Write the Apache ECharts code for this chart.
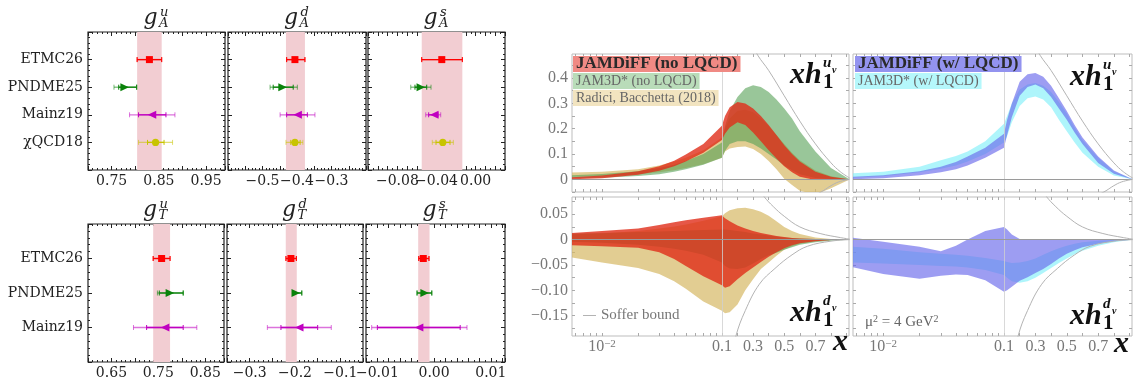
<!DOCTYPE html>
<html>
<head>
    <meta charset="UTF-8" />
    <title>Tensor charges and transversity</title>
    <script src="https://cdn.jsdelivr.net/npm/echarts@6.0.0/dist/echarts.min.js"></script>
</head>
<body style="margin:0; background:#fff;">
    <div id="chart" style="width: 1137px; height: 383px;"></div>

    <script type="text/javascript">
        // ---------- lattice charges: [centre, outer lo, outer hi, inner lo, inner hi] ----------
        var rowNames = ['ETMC26', 'PNDME25', 'Mainz19', 'χQCD18'];

        var gAu = [[0.830, 0.804, 0.856, 0.804, 0.856], [0.776, 0.755, 0.803, 0.765, 0.803],
                   [0.837, 0.788, 0.884, 0.807, 0.865], [0.843, 0.807, 0.879, 0.826, 0.861]];
        var gAuBand = [0.804, 0.856];
        var gAd = [[-0.406, -0.430, -0.377, -0.430, -0.377], [-0.444, -0.478, -0.399, -0.469, -0.411],
                   [-0.396, -0.449, -0.348, -0.430, -0.370], [-0.406, -0.432, -0.383, -0.418, -0.391]];
        var gAdBand = [-0.432, -0.377];
        var gAs = [[-0.0346, -0.0551, -0.0136, -0.0551, -0.0136], [-0.0568, -0.0663, -0.0456, -0.062, -0.050],
                   [-0.0415, -0.051, -0.0357, -0.048, -0.0385], [-0.0336, -0.0443, -0.0228, -0.0405, -0.0262]];
        var gAsBand = [-0.0551, -0.0136];
        var gTu = [[0.757, 0.739, 0.775, 0.739, 0.775], [0.773, 0.748, 0.803, 0.752, 0.803],
                   [0.766, 0.697, 0.832, 0.725, 0.803]];
        var gTuBand = [0.739, 0.775];
        var gTd = [[-0.209, -0.220, -0.197, -0.220, -0.197], [-0.200, -0.205, -0.185, -0.205, -0.185],
                   [-0.189, -0.261, -0.120, -0.231, -0.150]];
        var gTdBand = [-0.2204, -0.1961];
        var gTs = [[-0.0019, -0.0027, -0.0009, -0.0027, -0.0009], [-0.0018, -0.0030, -0.0004, -0.0030, -0.0004],
                   [-0.0025, -0.0110, 0.0058, -0.0100, 0.0046]];
        var gTsBand = [-0.0028, -0.0008];

        // ---------- transversity bands (x grid shared by all bands) ----------
        var xs = [0.0055, 0.01, 0.02, 0.03, 0.04, 0.05, 0.07, 0.1, 0.12, 0.15, 0.2,
                  0.25, 0.3, 0.35, 0.4, 0.45, 0.5, 0.55, 0.6, 0.7, 0.8, 0.92];

        // x h1 u_v, no LQCD
        var jamdiffUvLo = [0.000, 0.004, 0.018, 0.034, 0.052, 0.070, 0.105, 0.155, 0.180, 0.205, 0.225, 0.215, 0.185, 0.150, 0.115, 0.082, 0.052, 0.028, 0.010, -0.003, -0.002, 0];
        var jamdiffUvHi = [0.008, 0.015, 0.032, 0.052, 0.073, 0.098, 0.140, 0.212, 0.250, 0.285, 0.305, 0.300, 0.280, 0.250, 0.215, 0.175, 0.135, 0.100, 0.070, 0.030, 0.010, 0];
        var jam3dUvLo = [0.004, 0.006, 0.013, 0.020, 0.030, 0.040, 0.058, 0.085, 0.112, 0.140, 0.150, 0.150, 0.140, 0.122, 0.100, 0.078, 0.055, 0.036, 0.020, 0.005, 0.001, 0];
        var jam3dUvHi = [0.016, 0.021, 0.032, 0.045, 0.058, 0.072, 0.100, 0.145, 0.210, 0.270, 0.325, 0.360, 0.372, 0.365, 0.345, 0.315, 0.280, 0.240, 0.190, 0.110, 0.045, 0];
        var radiciUvLo = [0.010, 0.013, 0.020, 0.028, 0.036, 0.045, 0.060, 0.085, 0.110, 0.122, 0.128, 0.130, 0.120, 0.100, 0.072, 0.040, 0.002, -0.022, -0.045, -0.060, -0.035, 0];
        var radiciUvHi = [0.027, 0.030, 0.040, 0.055, 0.070, 0.085, 0.115, 0.165, 0.200, 0.240, 0.270, 0.275, 0.265, 0.240, 0.210, 0.175, 0.140, 0.105, 0.075, 0.035, 0.012, 0];
        // x h1 u_v, with LQCD
        var jamdiffUvLqLo = [0.000, 0.004, 0.016, 0.028, 0.040, 0.055, 0.085, 0.125, 0.175, 0.245, 0.330, 0.365, 0.375, 0.360, 0.325, 0.280, 0.235, 0.185, 0.140, 0.065, 0.022, 0];
        var jamdiffUvLqHi = [0.010, 0.016, 0.032, 0.050, 0.068, 0.090, 0.125, 0.180, 0.235, 0.300, 0.385, 0.415, 0.420, 0.405, 0.370, 0.320, 0.270, 0.215, 0.165, 0.090, 0.035, 0];
        var jam3dUvLqLo = [0.006, 0.012, 0.028, 0.042, 0.055, 0.070, 0.100, 0.145, 0.170, 0.225, 0.290, 0.320, 0.327, 0.315, 0.285, 0.235, 0.190, 0.145, 0.105, 0.050, 0.015, 0];
        var jam3dUvLqHi = [0.024, 0.030, 0.050, 0.075, 0.092, 0.110, 0.150, 0.220, 0.250, 0.300, 0.355, 0.375, 0.380, 0.370, 0.345, 0.305, 0.260, 0.205, 0.155, 0.085, 0.032, 0];
        // x h1 d_v, no LQCD
        var jamdiffDvLo = [-0.011, -0.013, -0.016, -0.025, -0.038, -0.052, -0.072, -0.090, -0.095, -0.092, -0.078, -0.066, -0.055, -0.044, -0.034, -0.025, -0.017, -0.011, -0.007, -0.003, -0.001, 0];
        var jamdiffDvHi = [0.013, 0.017, 0.022, 0.029, 0.034, 0.038, 0.043, 0.048, 0.042, 0.036, 0.028, 0.022, 0.017, 0.013, 0.010, 0.007, 0.005, 0.003, 0.002, 0.001, 0.000, 0];
        var jam3dDvLo = [-0.004, -0.006, -0.010, -0.014, -0.018, -0.022, -0.030, -0.045, -0.052, -0.057, -0.058, -0.055, -0.047, -0.038, -0.031, -0.026, -0.020, -0.015, -0.010, -0.005, -0.002, 0];
        var jam3dDvHi = [0.012, 0.013, 0.015, 0.016, 0.017, 0.018, 0.019, 0.020, 0.020, 0.019, 0.017, 0.015, 0.012, 0.010, 0.008, 0.006, 0.004, 0.003, 0.002, 0.001, 0.000, 0];
        var radiciDvLo = [-0.035, -0.045, -0.056, -0.068, -0.082, -0.097, -0.122, -0.140, -0.145, -0.143, -0.128, -0.100, -0.078, -0.058, -0.045, -0.032, -0.020, -0.013, -0.008, -0.003, -0.001, 0];
        var radiciDvHi = [0.010, 0.012, 0.017, 0.022, 0.026, 0.030, 0.037, 0.046, 0.052, 0.058, 0.062, 0.063, 0.060, 0.055, 0.047, 0.036, 0.025, 0.017, 0.011, 0.004, 0.001, 0];
        // x h1 d_v, with LQCD
        var jamdiffDvLqLo = [-0.054, -0.068, -0.077, -0.071, -0.069, -0.070, -0.080, -0.103, -0.100, -0.093, -0.081, -0.074, -0.066, -0.058, -0.048, -0.037, -0.028, -0.021, -0.015, -0.008, -0.003, 0];
        var jamdiffDvLqHi = [0.004, -0.004, -0.014, -0.023, -0.012, 0.000, 0.017, 0.025, 0.020, 0.010, 0.001, 0.001, 0.001, 0.001, 0.001, 0.001, 0.001, 0.001, 0.001, 0.001, 0.0005, 0];
        var jam3dDvLqLo = [-0.045, -0.047, -0.050, -0.052, -0.053, -0.055, -0.060, -0.070, -0.075, -0.082, -0.085, -0.082, -0.075, -0.066, -0.056, -0.046, -0.037, -0.029, -0.022, -0.012, -0.005, 0];
        var jam3dDvLqHi = [-0.014, -0.018, -0.025, -0.028, -0.030, -0.032, -0.036, -0.042, -0.044, -0.046, -0.045, -0.042, -0.037, -0.030, -0.023, -0.017, -0.012, -0.008, -0.005, -0.002, -0.001, 0];

        // Soffer bound
        var sofferUpX = [0.30, 0.33, 0.40, 0.50, 0.60, 0.70, 0.80, 0.86, 0.92];
        var sofferUpV = [0.53, 0.49, 0.43, 0.33, 0.23, 0.14, 0.065, 0.03, 0.005];
        var sofferUlowX = [0.65, 0.70, 0.75, 0.80, 0.85, 0.92];
        var sofferUlowV = [-0.08, -0.062, -0.045, -0.025, -0.01, 0];
        var sofferDupX = [0.34, 0.37, 0.43, 0.50, 0.60, 0.73, 0.86, 0.92];
        var sofferDupV = [0.10, 0.085, 0.065, 0.046, 0.025, 0.012, 0.004, 0.001];
        var sofferDlowX = [0.17, 0.19, 0.25, 0.34, 0.44, 0.55, 0.65, 0.80, 0.92];
        var sofferDlowV = [-0.23, -0.19, -0.14, -0.088, -0.057, -0.03, -0.013, -0.003, 0];

        // tick labels
        var xTickLabels = [0.01, 0.1, 0.3, 0.5, 0.7];
        var xMinorTicks = [0.006, 0.007, 0.008, 0.009, 0.01, 0.02, 0.03, 0.04, 0.05, 0.06, 0.07, 0.08, 0.09,
                           0.1, 0.2, 0.3, 0.4, 0.5, 0.6, 0.7, 0.8, 0.9];
        var uLabelsY = [0, 0.1, 0.2, 0.3, 0.4];
        var uTicksY = [-0.05, 0, 0.05, 0.1, 0.15, 0.2, 0.25, 0.3, 0.35, 0.4, 0.45];
        var dLabelsY = [0.05, 0, -0.05, -0.1, -0.15];
        var dTicksY = [0.075, 0.05, 0.025, 0, -0.025, -0.05, -0.075, -0.1, -0.125, -0.15, -0.175];
    </script>

    <script type="text/javascript">
        var chart = echarts.init(document.getElementById('chart'));
        var SERIF = '"DejaVu Serif", serif';
        var CM = '"Liberation Serif", "DejaVu Serif", serif';

        var markColors = ['#ff0000', '#0a820a', '#c000c0', '#c8c400'];
        var markShapes = ['square', 'right', 'left', 'circle'];

        var C_RED = 'rgba(224,45,25,0.8)';
        var C_GREEN = 'rgba(85,160,85,0.6)';
        var C_YEL = 'rgba(214,184,100,0.7)';
        var C_BLUE = 'rgba(105,105,235,0.65)';
        var C_CYAN = 'rgba(120,238,248,0.6)';

        // log below x = 0.1, linear above
        function toU(x) { return x <= 0.1 ? Math.log10(x) : -1 + 1.3 * (x - 0.1); }
        function fromU(u) { return u <= -1 ? Math.pow(10, u) : 0.1 + (u + 1) / 1.3; }
        function fmt(v, dec) {
            if (Math.abs(v) < 1e-12) return (0).toFixed(dec);
            return (v < 0 ? '\u2212' : '') + Math.abs(v).toFixed(dec);
        }

        var leftPanels = [
            { sub: 'A', sup: 'u', pts: gAu, band: gAuBand, min: 0.70, max: 0.99, step: 0.05, minor: 5, labels: [0.75, 0.85, 0.95], dec: 2, names: true, box: [88, 32, 137, 138] },
            { sub: 'A', sup: 'd', pts: gAd, band: gAdBand, min: -0.6, max: -0.2, step: 0.05, minor: 5, labels: [-0.5, -0.4, -0.3], dec: 1, box: [228, 32, 138, 138] },
            { sub: 'A', sup: 's', pts: gAs, band: gAsBand, min: -0.11, max: 0.03, step: 0.01, minor: 2, labels: [-0.08, -0.04, 0], dec: 2, box: [368, 32, 137, 138] },
            { sub: 'T', sup: 'u', pts: gTu, band: gTuBand, min: 0.60, max: 0.89, step: 0.05, minor: 5, labels: [0.65, 0.75, 0.85], dec: 2, names: true, box: [88, 224, 136, 138] },
            { sub: 'T', sup: 'd', pts: gTd, band: gTdBand, min: -0.35, max: -0.05, step: 0.05, minor: 5, labels: [-0.3, -0.2, -0.1], dec: 1, box: [227, 224, 136, 138] },
            { sub: 'T', sup: 's', pts: gTs, band: gTsBand, min: -0.012, max: 0.0125, step: 0.002, minor: 2, labels: [-0.01, 0, 0.01], dec: 2, box: [366, 224, 139, 138] }
        ];

        var rightPanels = [
            { ymin: -0.05, ymax: 0.495, yLab: uLabelsY, yTicks: uTicksY, yDec: 1, showY: true, showX: false, box: [572, 54, 277, 138],
              bands: [[radiciUvLo, radiciUvHi, C_YEL], [jam3dUvLo, jam3dUvHi, C_GREEN], [jamdiffUvLo, jamdiffUvHi, C_RED]],
              soffer: [[sofferUpX, sofferUpV], [sofferUlowX, sofferUlowV]] },
            { ymin: -0.05, ymax: 0.495, yLab: uLabelsY, yTicks: uTicksY, yDec: 1, showY: false, showX: false, box: [853, 54, 279, 138],
              bands: [[jam3dUvLqLo, jam3dUvLqHi, C_CYAN], [jamdiffUvLqLo, jamdiffUvLqHi, C_BLUE]],
              soffer: [[sofferUpX, sofferUpV], [sofferUlowX, sofferUlowV]] },
            { ymin: -0.19, ymax: 0.084, yLab: dLabelsY, yTicks: dTicksY, yDec: 2, showY: true, showX: true, box: [572, 197, 277, 139],
              bands: [[radiciDvLo, radiciDvHi, C_YEL], [jam3dDvLo, jam3dDvHi, C_GREEN], [jamdiffDvLo, jamdiffDvHi, C_RED]],
              soffer: [[sofferDupX, sofferDupV], [sofferDlowX, sofferDlowV]] },
            { ymin: -0.19, ymax: 0.084, yLab: dLabelsY, yTicks: dTicksY, yDec: 2, showY: false, showX: true, box: [853, 197, 279, 139],
              bands: [[jam3dDvLqLo, jam3dDvLqHi, C_CYAN], [jamdiffDvLqLo, jamdiffDvLqHi, C_BLUE]],
              soffer: [[sofferDupX, sofferDupV], [sofferDlowX, sofferDlowV]] }
        ];

        function pointRenderer(params, api) {
            var row = api.value(5);
            var color = markColors[row - 1];
            var shape = markShapes[row - 1];
            var c = api.coord([api.value(0), row]);
            var y = c[1], xc = c[0];
            var xo1 = api.coord([api.value(1), row])[0], xo2 = api.coord([api.value(2), row])[0];
            var xi1 = api.coord([api.value(3), row])[0], xi2 = api.coord([api.value(4), row])[0];
            var cap = 2.5;
            var kids = [
                { type: 'line', shape: { x1: xo1, y1: y, x2: xo2, y2: y }, style: { stroke: color, lineWidth: 1.3, opacity: 0.55 } },
                { type: 'line', shape: { x1: xi1, y1: y, x2: xi2, y2: y }, style: { stroke: color, lineWidth: 1.3 } }
            ];
            [xo1, xo2].forEach(function (x) {
                kids.push({ type: 'line', shape: { x1: x, y1: y - cap, x2: x, y2: y + cap }, style: { stroke: color, lineWidth: 1, opacity: 0.55 } });
            });
            [xi1, xi2].forEach(function (x) {
                kids.push({ type: 'line', shape: { x1: x, y1: y - cap, x2: x, y2: y + cap }, style: { stroke: color, lineWidth: 1 } });
            });
            if (shape === 'square') {
                kids.push({ type: 'rect', shape: { x: xc - 3.5, y: y - 3.5, width: 7, height: 7 }, style: { fill: color } });
            } else if (shape === 'right') {
                kids.push({ type: 'polygon', shape: { points: [[xc - 3.5, y - 4], [xc + 5, y], [xc - 3.5, y + 4]] }, style: { fill: color } });
            } else if (shape === 'left') {
                kids.push({ type: 'polygon', shape: { points: [[xc + 3.5, y - 4], [xc - 5, y], [xc + 3.5, y + 4]] }, style: { fill: color } });
            } else {
                kids.push({ type: 'circle', shape: { cx: xc, cy: y, r: 3.6 }, style: { fill: color } });
            }
            return { type: 'group', children: kids };
        }

        function pinkRenderer(top) {
            return function (params, api) {
                var a = api.coord([api.value(0), 0]);
                var b = api.coord([api.value(1), top]);
                return { type: 'rect', shape: { x: a[0], y: Math.min(a[1], b[1]), width: b[0] - a[0], height: Math.abs(b[1] - a[1]) },
                         style: { fill: '#f2cdd2' } };
            };
        }

        function bandRenderer(lo, hi, color) {
            return function (params, api) {
                var pts = [];
                for (var i = 0; i < xs.length; i++) pts.push(api.coord([toU(xs[i]), hi[i]]));
                for (var j = xs.length - 1; j >= 0; j--) pts.push(api.coord([toU(xs[j]), lo[j]]));
                var cs = params.coordSys;
                return { type: 'group',
                         clipPath: { type: 'rect', shape: { x: cs.x, y: cs.y, width: cs.width, height: cs.height } },
                         children: [{ type: 'polygon', shape: { points: pts }, style: { fill: color } }] };
            };
        }

        var grids = [], xAxes = [], yAxes = [], series = [], graphics = [];

        function tickStyle(color) { return { color: color, width: 1 }; }
        var noLine = { show: false, onZero: false };

        leftPanels.forEach(function (p, i) {
            var nRows = p.pts.length;
            var top = nRows + 1;
            grids.push({ left: p.box[0], top: p.box[1], width: p.box[2], height: p.box[3], show: true,
                         borderColor: '#222', borderWidth: 1.2, backgroundColor: 'transparent', outerBoundsMode: 'none', containLabel: false });
            var xBase = { gridIndex: i, type: 'value', min: p.min, max: p.max, interval: p.step,
                          axisLine: noLine, splitLine: { show: false },
                          axisTick: { show: true, inside: true, length: 4, lineStyle: tickStyle('#222') },
                          minorTick: { show: true, splitNumber: p.minor, length: 2, lineStyle: tickStyle('#222') } };
            xAxes.push(Object.assign({}, xBase, { position: 'bottom',
                axisLabel: { show: true, margin: 4, fontFamily: SERIF, fontSize: 14, color: '#222', showMinLabel: true, showMaxLabel: true,
                    formatter: function (v) {
                        return p.labels.some(function (l) { return Math.abs(l - v) < 1e-9; }) ? fmt(v, p.dec) : '';
                    } } }));
            xAxes.push(Object.assign({}, xBase, { position: 'top', axisLabel: { show: false } }));
            var yBase = { gridIndex: i, type: 'value', min: 0, max: top, interval: 1, inverse: true,
                          axisLine: noLine, splitLine: { show: false },
                          axisTick: { show: true, inside: true, length: 4, lineStyle: tickStyle('#222') },
                          minorTick: { show: true, splitNumber: 5, length: 2, lineStyle: tickStyle('#222') } };
            yAxes.push(Object.assign({}, yBase, { position: 'left',
                axisLabel: { show: !!p.names, margin: 5, fontFamily: SERIF, fontSize: 14, color: '#222',
                    formatter: function (v) { return (v >= 1 && v <= nRows) ? rowNames[v - 1] : ''; } } }));
            yAxes.push(Object.assign({}, yBase, { position: 'right', axisLabel: { show: false } }));

            series.push({ type: 'custom', name: 'band' + i, xAxisIndex: 2 * i, yAxisIndex: 2 * i, z: 1, silent: true,
                          data: [[p.band[0], p.band[1]]], renderItem: pinkRenderer(top) });
            series.push({ type: 'custom', name: 'lattice' + i, xAxisIndex: 2 * i, yAxisIndex: 2 * i, z: 3, silent: true,
                          data: p.pts.map(function (d, r) { return [d[0], d[1], d[2], d[3], d[4], r + 1]; }),
                          renderItem: pointRenderer });

            // panel title g_X^q
            var cx = p.box[0] + p.box[2] / 2;
            var ty = p.box[1] - 32;
            graphics.push({ type: 'text', x: cx + 1, y: ty + 18, silent: true,
                            style: { text: 'g', font: 'italic 22px ' + SERIF, fill: '#222', align: 'right', textAlign: 'right', verticalAlign: 'middle', textVerticalAlign: 'middle' } });
            graphics.push({ type: 'text', x: cx + 3.5, y: ty + 13, silent: true,
                            style: { text: p.sup, font: 'italic 13px ' + SERIF, fill: '#222', align: 'left', textAlign: 'left', verticalAlign: 'middle', textVerticalAlign: 'middle' } });
            graphics.push({ type: 'text', x: cx + 2.5, y: ty + 24, silent: true,
                            style: { text: p.sub, font: 'italic 13px ' + SERIF, fill: '#222', align: 'left', textAlign: 'left', verticalAlign: 'middle', textVerticalAlign: 'middle' } });
        });

        var nL = leftPanels.length;
        rightPanels.forEach(function (p, j) {
            var gi = nL + j;
            var ax = 2 * gi;
            grids.push({ left: p.box[0], top: p.box[1], width: p.box[2], height: p.box[3], show: true,
                         borderColor: '#bdbdbd', borderWidth: 1, backgroundColor: 'transparent', outerBoundsMode: 'none', containLabel: false });
            var xBase = { gridIndex: gi, type: 'value', min: -2.25, max: 0.06,
                          axisLine: noLine, splitLine: { show: false },
                          axisTick: { show: true, inside: true, length: 3, lineStyle: tickStyle('#aaa'), customValues: xMinorTicks.map(toU) } };
            xAxes.push(Object.assign({}, xBase, { position: 'bottom',
                axisLabel: { show: p.showX, margin: 3, fontFamily: CM, fontSize: 16, color: '#777',
                    customValues: xTickLabels.map(toU),
                    formatter: function (v) {
                        var x = fromU(v);
                        if (Math.abs(x - 0.01) < 1e-6) return '{p|10}{s|\u22122}';
                        return x.toFixed(1);
                    },
                    rich: { p: { fontFamily: CM, fontSize: 16, color: '#777' },
                            s: { fontFamily: CM, fontSize: 11, color: '#777', verticalAlign: 'top' } } } }));
            xAxes.push(Object.assign({}, xBase, { position: 'top', axisLabel: { show: false } }));
            var yBase = { gridIndex: gi, type: 'value', min: p.ymin, max: p.ymax,
                          axisLine: noLine, splitLine: { show: false },
                          axisTick: { show: true, inside: true, length: 3, lineStyle: tickStyle('#aaa'), customValues: p.yTicks } };
            yAxes.push(Object.assign({}, yBase, { position: 'left',
                axisLabel: { show: p.showY, margin: 4, fontFamily: CM, fontSize: 16, color: '#777', customValues: p.yLab,
                    formatter: function (v) { return Math.abs(v) < 1e-9 ? '0' : fmt(v, p.yDec); } } }));
            yAxes.push(Object.assign({}, yBase, { position: 'right', axisLabel: { show: false } }));

            p.bands.forEach(function (b, k) {
                series.push({ type: 'custom', name: 'pdf' + j + '_' + k, xAxisIndex: ax, yAxisIndex: ax, z: 2 + k, silent: true,
                              clip: true, data: [[-1, 0]], renderItem: bandRenderer(b[0], b[1], b[2]) });
            });
            p.soffer.forEach(function (s, k) {
                var line = { type: 'line', name: 'Soffer bound', xAxisIndex: ax, yAxisIndex: ax, z: 8, silent: true,
                             smooth: 0.4, symbol: 'none', clip: true,
                             lineStyle: { color: '#b3b3b3', width: 1 }, itemStyle: { color: '#b3b3b3' },
                             data: s[0].map(function (x, m) { return [toU(x), s[1][m]]; }) };
                if (k === 0) {
                    line.markLine = { silent: true, symbol: 'none', label: { show: false },
                        data: [ { xAxis: -1, lineStyle: { color: '#cfcfcf', width: 1, type: 'solid', opacity: 0.8 } },
                                { yAxis: 0, lineStyle: { color: '#9a9a9a', width: 1, type: 'solid' } } ] };
                }
                series.push(line);
            });
        });

        function txt(x, y, text, font, fill) {
            return { type: 'text', x: x, y: y, silent: true, z: 20,
                     style: { text: text, font: font, fill: fill || '#222', align: 'left', textAlign: 'left', verticalAlign: 'middle', textVerticalAlign: 'middle' } };
        }
        function box(x, y, text, font, fill, bg) {
            return { type: 'text', x: x, y: y, silent: true, z: 20,
                     style: { text: text, font: font, fill: fill, backgroundColor: bg, padding: [0, 3, 0, 3], lineHeight: 16,
                              align: 'left', textAlign: 'left', verticalAlign: 'top', textVerticalAlign: 'top' } };
        }

        // legends as coloured boxes
        graphics.push(box(573, 56, 'JAMDiFF (no LQCD)', 'bold 17px ' + CM, '#2a2a2a', '#f08a84'));
        graphics.push(box(573, 73, 'JAM3D* (no LQCD)', '14px ' + CM, '#666', '#b9dcb9'));
        graphics.push(box(573, 90, 'Radici, Bacchetta (2018)', '14px ' + CM, '#666', '#f2e4c0'));
        graphics.push(box(855, 56, 'JAMDiFF (w/ LQCD)', 'bold 17px ' + CM, '#2a2a2a', '#9393ef'));
        graphics.push(box(855, 73, 'JAM3D* (w/ LQCD)', '14px ' + CM, '#666', '#b5f7fb'));

        // x h1^{q_v} labels
        [[0, 0, 'u'], [280, 2, 'u'], [0, 238, 'd'], [280, 241, 'd']].forEach(function (o) {
            var dx = o[0], dy = o[1];
            graphics.push(txt(790 + dx, 75 + dy, 'xh', 'italic bold 30px ' + CM, '#111'));
            graphics.push(txt(823 + dx, 63 + dy, o[2], 'italic bold 15px ' + CM, '#111'));
            graphics.push(txt(832 + dx, 70 + dy, 'v', 'italic bold 10px ' + CM, '#111'));
            graphics.push(txt(823 + dx, 83 + dy, '1', 'bold 21px ' + CM, '#111'));
        });
        // axis names
        graphics.push(txt(833, 342, 'x', 'italic bold 30px ' + CM, '#111'));
        graphics.push(txt(1114, 344, 'x', 'italic bold 30px ' + CM, '#111'));
        // scale
        graphics.push({ type: 'text', x: 865, y: 322, silent: true, z: 20,
            style: { text: '{a|μ}{s|2}{a| = 4 GeV}{s|2}', align: 'left', textAlign: 'left', verticalAlign: 'middle', textVerticalAlign: 'middle',
                     rich: { a: { fontFamily: CM, fontSize: 15, fill: '#666', color: '#666' },
                             s: { fontFamily: CM, fontSize: 10, fill: '#666', color: '#666', verticalAlign: 'top' } } } });

        var option = {
            animation: false,
            backgroundColor: '#fff',
            textStyle: { fontFamily: SERIF },
            grid: grids,
            xAxis: xAxes,
            yAxis: yAxes,
            legend: { data: ['Soffer bound'], left: 583, top: 308, padding: 0, icon: 'rect', itemWidth: 13, itemHeight: 1,
                      selectedMode: false, textStyle: { fontFamily: CM, fontSize: 15, color: '#777' } },
            graphic: graphics,
            series: series
        };
        chart.setOption(option);
    </script>
</body>
</html>
